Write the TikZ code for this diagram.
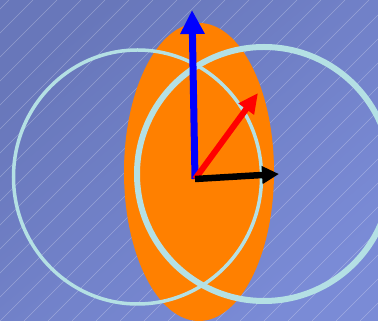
\documentclass[tikz,border=0pt]{standalone}
\usetikzlibrary{arrows.meta}
\definecolor{bgA}{HTML}{6877BA}
\definecolor{bgB}{HTML}{7A8BD6}
\definecolor{ring}{HTML}{B4E0E4}
\definecolor{orng}{HTML}{FF8000}
\tikzset{
  hatch/.style={white, opacity=0.28, line width=0.5pt},
  ringline/.style={draw=ring},
}
\begin{document}
\begin{tikzpicture}[x=1pt,y=1pt]
\useasboundingbox (0,0) rectangle (378,321);
\shade[shading=axis, top color=bgA, bottom color=bgB, shading angle=40] (0,0) rectangle (378,321);
\begin{scope}
\clip (0,0) rectangle (378,321);
\foreach \i in {-336,-312,...,384} \draw[hatch] (\i,0) -- ++(321,321);
\fill[orng] (199,149) ellipse [x radius=75, y radius=149];
\draw[ringline, line width=3.5pt] (137.5,144) ellipse [x radius=124, y radius=127];
\draw[ringline, line width=6pt] (264,147) circle [radius=127];
\end{scope}
\coordinate (O) at (195,142);
\coordinate (B) at (192,311);
\coordinate (R) at (258,228);
\coordinate (K) at (279,147);
\draw[blue, line width=7pt, -{Triangle[length=24pt,width=23pt]}] (O) -- (B);
\draw[red, line width=6pt, -{Triangle[length=20pt,width=18pt]}] (O) -- (R);
\draw[black, line width=6.5pt, -{Triangle[length=17pt,width=17pt]}] (O) -- (K);
\end{tikzpicture}
\end{document}
